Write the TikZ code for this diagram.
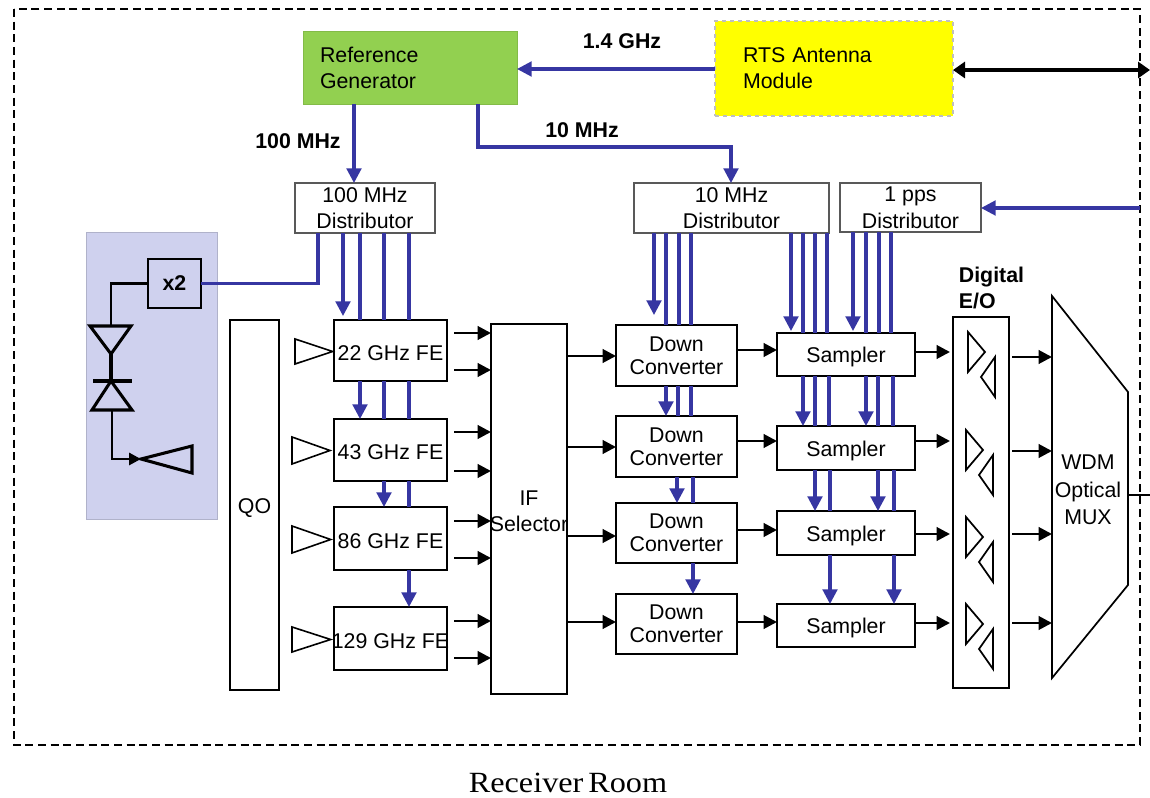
\documentclass[tikz,border=0pt]{standalone}
\usepackage{fontspec}
\setmainfont{Liberation Sans}
\newfontfamily\roomfont[FakeStretch=1.1,WordSpace=0.6]{Liberation Serif}
\usepackage{tikz}
\usetikzlibrary{arrows.meta}

\definecolor{clkblue}{HTML}{3636A2}
\definecolor{panelblue}{HTML}{CFD1EE}
\definecolor{gengreen}{HTML}{92D050}
\definecolor{rtsyellow}{HTML}{FFFF00}

\tikzset{
	txt/.style={inner sep=0pt,align=center,font=\fontsize{16}{19.5}\selectfont},
	box/.style={txt,draw,line width=1.6pt,outer sep=0pt},
	fetxt/.style={text height=15pt,text depth=0pt},
	satxt/.style={text height=12.5pt,text depth=0pt},
	dctxt/.style={font=\fontsize{16}{17}\selectfont},
	distbox/.style={txt,draw=black!65,line width=1pt,outer sep=0pt,font=\fontsize{16}{20}\selectfont},
	boldtxt/.style={inner sep=0pt,align=left,font=\fontsize{16}{20}\selectfont\bfseries},
	clk/.style={draw=clkblue,line width=2.3pt},
	clkarrow/.style={clk,-{Triangle[length=11pt,width=11pt]}},
	sig/.style={line width=2.1pt,-{Triangle[length=10pt,width=10pt]}},
	horn/.style={line width=1.2pt,line join=miter},
	mixer/.style={line width=2.3pt,line join=miter},
}

\begin{document}
\begin{tikzpicture}[x=0.75pt,y=-0.75pt]
		\useasboundingbox (0,0) rectangle (1150,798);
		
		% --- room outline and LO panel first ---
		\draw[line width=1.1pt,dash pattern=on 6pt off 3.5pt] (14,9) rectangle (1140,745);
		\fill[panelblue,draw=panelblue!85!black,line width=0.5pt] (86,232) rectangle (217,519);
		\node[txt,font=\fontsize{22}{24}\selectfont\roomfont,inner sep=0pt] (room) at (568,783) {Receiver Room};
		
		% top row
		\node[txt,fill=gengreen,draw=gengreen!90!black,line width=0.5pt,minimum width=160.5pt,minimum height=54.75pt,text width=135pt,align=left,outer sep=0pt] (refgen) at (410,67.5) {Reference\\Generator};
		\node[txt,fill=rtsyellow,draw=black!25,dashed,line width=1.1pt,minimum width=178.5pt,minimum height=71.25pt,text width=136.5pt,align=left,outer sep=0pt] (rts) at (834,68.5) {RTS Antenna\\Module};
		\coordinate (rtsout) at (1150,70);
		\coordinate (ppsin) at (1140,208);
		
		% distributors
		\node[distbox,minimum width=105pt,minimum height=37.5pt] (dist100) at (365,208) {100 MHz\\Distributor};
		\node[distbox,minimum width=146.25pt,minimum height=37.5pt] (dist10) at (731.5,208) {10 MHz\\Distributor};
		\node[distbox,minimum width=105.75pt,minimum height=36.75pt] (distpps) at (910.5,207.5) {1 pps\\Distributor};
		
		% front ends, selector, converters, samplers
		\node[box,minimum width=36.75pt,minimum height=277.5pt,satxt] (qo) at (254.5,505) {QO};
		\foreach \nm/\lab/\y/\h in {fe22/22 GHz FE/350.5/61, fe43/43 GHz FE/450/62, fe86/86 GHz FE/538.5/63, fe129/129 GHz FE/638.5/63}{
			\node[box,fetxt,minimum width=84.75pt,minimum height=\h*0.75pt] (\nm) at (390.5,\y) {\makebox[0pt]{\lab}};
		}
		\node[box,minimum width=57pt,minimum height=277.5pt] (ifsel) at (529,509) {};
		\node[txt] (iflab) at (529,511) {IF\\Selector};
		\foreach \nm/\y/\h in {dc1/355.5/61, dc2/446.5/61, dc3/533/60, dc4/624/60}{
			\node[box,dctxt,minimum width=90.75pt,minimum height=\h*0.75pt] (\nm) at (676.5,\y) {Down\\Converter};
		}
		\foreach \nm/\y/\h in {sa1/354.5/43, sa2/448/44, sa3/533/44, sa4/625.5/43}{
			\node[box,satxt,minimum width=103.5pt,minimum height=\h*0.75pt] (\nm) at (846,\y) {Sampler};
		}
		
		% E/O column with its triangle pairs
		\node[box,minimum width=42pt,minimum height=278.25pt] (eo) at (981,502.5) {};
		\node[boldtxt] (eolab) at (991.5,288) {Digital\\E/O};
		\foreach \y/\d in {332/0, 430/-2, 517/-2, 604/-2}{
			\draw[horn,line width=1.3pt] (968+\d,\y) -- (968+\d,\y+40) -- (985+\d,\y+20) -- cycle;
			\draw[horn,line width=1.3pt] (995+\d,\y+25) -- (995+\d,\y+65) -- (981+\d,\y+45) -- cycle;
		}
		
		% WDM mux
		\draw[line width=1.3pt,line join=miter] (1052,296) -- (1128,392) -- (1128,585) -- (1052,678) -- cycle;
		\coordinate (muxin) at (1052,489);
		\coordinate (muxout) at (1128,495);
		\coordinate (muxend) at (1150,495);
		\node[txt] (muxlab) at (1088,489.5) {WDM\\[1.5pt]Optical\\[0.5pt]MUX};
		
		% x2 multiplier and mixer panel
		\node[box,line width=2.2pt,minimum width=39.75pt,minimum height=36.75pt,font=\fontsize{16}{18}\selectfont\bfseries] (dbl) at (174.5,283.5) {x2};
		\coordinate (mixtop) at (111,326);
		\coordinate (mixtip) at (111,354);
		\coordinate (barmid) at (111,381);
		\coordinate (mixbot) at (112,410);
		\coordinate (lohorn) at (141,459);
		\draw[mixer] (90,326) -- (131,326) -- (mixtip) -- cycle;
		\draw[mixer] (mixtip) -- (barmid);
		\draw[mixer] (93,381) -- (132,381);
		\draw[mixer] (barmid) -- (132,410) -- (92,410) -- cycle;
		\draw[mixer] (lohorn) -- (192,446) -- (192,473) -- cycle;
		\draw[line width=2.2pt] (dbl.west) -| (mixtop);
		\draw[line width=2.2pt,-{Triangle[length=9pt,width=9pt]}] (mixbot) |- (lohorn);
		
		% feed horns
		\foreach \x/\y/\h/\nm/\g in {295/339/25/fe22/-1, 292/437/27/fe43/-3, 292/526/27/fe86/-2.5, 292/627/25/fe129/-2.5}{
			\draw[horn] (\x,\y) -- (\x,\y+\h) -- ([xshift=\g pt]\nm.west |- 0,\y+\h/2) -- cycle;
		}
		
		% --- reference clocks ---
		\draw[clkarrow] (rts.west |- 0,69) -- (refgen.east |- 0,69);
		\draw[clkarrow] (refgen.south -| 354,0) -- (dist100.north -| 354,0);
		\draw[clkarrow] (refgen.south -| 478,0) |- (731,147) -- (dist10.north -| 731,0);
		\draw[clkarrow] (ppsin) -- (distpps.east |- ppsin);
		\draw[clk] (dbl.east) -- (dbl.east -| 318,0) -- (dist100.south -| 318,0);
		\draw[line width=2.6pt,{Triangle[length=9pt,width=12pt]}-{Triangle[length=9pt,width=12pt]}] (rts.east |- rtsout) -- (rtsout);
		\draw[line width=1.6pt] (muxout) -- (muxend);
		
		% 100 MHz chain
		\draw[clkarrow] (dist100.south -| 343,0) -- (343,316);
		\foreach \x in {360,384,409}{
			\draw[clk] (dist100.south -| \x,0) -- (fe22.north -| \x,0);
		}
		\draw[clkarrow] (fe22.south -| 360,0) -- (fe43.north -| 360,0);
		\foreach \x in {384,409}{
			\draw[clk] (fe22.south -| \x,0) -- (fe43.north -| \x,0);
		}
		\draw[clkarrow] (fe43.south -| 384,0) -- (fe86.north -| 384,0);
		\draw[clk] (fe43.south -| 409,0) -- (fe86.north -| 409,0);
		\draw[clkarrow] (fe86.south -| 409,0) -- (fe129.north -| 409,0);
		
		% 10 MHz to converters
		\draw[clkarrow] (dist10.south -| 654,0) -- (654,315);
		\foreach \x in {666,679,691}{
			\draw[clk] (dist10.south -| \x,0) -- (dc1.north -| \x,0);
		}
		\draw[clkarrow] (dc1.south -| 666,0) -- (dc2.north -| 666,0);
		\foreach \x in {678,691}{
			\draw[clk] (dc1.south -| \x,0) -- (dc2.north -| \x,0);
		}
		\draw[clkarrow] (dc2.south -| 677,0) -- (dc3.north -| 677,0);
		\draw[clk] (dc2.south -| 693,0) -- (dc3.north -| 693,0);
		\draw[clkarrow] (dc3.south -| 693,0) -- (dc4.north -| 693,0);
		
		% 10 MHz and 1 pps to samplers
		\foreach \n/\x in {dist10/791, distpps/853}{
			\draw[clkarrow] (\n.south -| \x,0) -- (\x,331);
		}
		\foreach \n/\x in {dist10/803, dist10/815, dist10/827, distpps/866, distpps/879, distpps/891}{
			\draw[clk] (\n.south -| \x,0) -- (sa1.north -| \x,0);
		}
		\foreach \x in {803,866}{
			\draw[clkarrow] (sa1.south -| \x,0) -- (sa2.north -| \x,0);
		}
		\foreach \x in {815,829,878,893}{
			\draw[clk] (sa1.south -| \x,0) -- (sa2.north -| \x,0);
		}
		\foreach \x in {815,878}{
			\draw[clkarrow] (sa2.south -| \x,0) -- (sa3.north -| \x,0);
		}
		\foreach \x in {830,894}{
			\draw[clk] (sa2.south -| \x,0) -- (sa3.north -| \x,0);
			\draw[clkarrow] (sa3.south -| \x,0) -- (sa4.north -| \x,0);
		}
		
		% --- signal paths ---
		\foreach \n/\y in {fe22/333, fe22/370, fe43/432, fe43/471, fe86/521, fe86/558, fe129/621, fe129/658}{
			\draw[sig] ([xshift=5.25pt]\n.east |- 0,\y) -- (ifsel.west |- 0,\y);
		}
		\foreach \n/\y in {dc1/356, dc2/447, dc3/536, dc4/622}{
			\draw[sig] (ifsel.east |- 0,\y) -- (\n.west |- 0,\y);
		}
		\foreach \a/\b/\y in {dc1/sa1/350, dc2/sa2/441, dc3/sa3/530, dc4/sa4/622}{
			\draw[sig] (\a.east |- 0,\y) -- (\b.west |- 0,\y);
		}
		\foreach \n/\y in {sa1/352, sa2/441, sa3/534, sa4/623}{
			\draw[sig] (\n.east |- 0,\y) -- ([xshift=-2.25pt]eo.west |- 0,\y);
		}
		\foreach \y in {357,451,534,623}{
			\draw[sig] ([xshift=2.25pt]eo.east |- 0,\y) -- (muxin |- 0,\y);
		}
		
		% labels on the clock lines
		\node[boldtxt] (lab14) at (622,41) {1.4 GHz};
		\node[boldtxt] (lab10) at (582,130) {10 MHz};
		\node[boldtxt] (lab100) at (298,141) {100 MHz};
		
	\end{tikzpicture}
\end{document}
